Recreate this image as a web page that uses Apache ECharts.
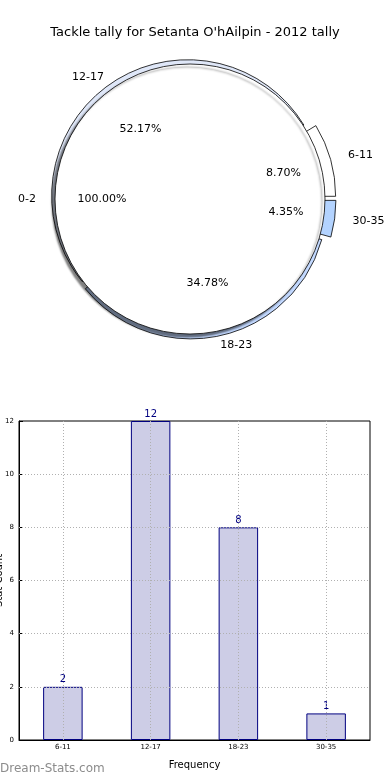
<!DOCTYPE html>
<html><head><meta charset="utf-8">
<script src="https://cdn.jsdelivr.net/npm/echarts@6/dist/echarts.min.js"></script>
<style>html,body{margin:0;padding:0;background:#fff}#c{width:390px;height:780px}</style>
</head><body><div id="c"></div>
<script>
var titleText = "Tackle tally for Setanta O'hAilpin - 2012 tally";
var categories = ['6-11', '12-17', '18-23', '30-35'];
var counts = [2, 12, 8, 1];
var sliceColors = ['#ffffff', '#dfe7f8', '#c3d9ff', '#b3d3ff'];
var fullName = '0-2';
var fullValue = [1];
var yTicks = [0, 2, 4, 6, 8, 10, 12];
var F = 'DejaVu Sans';

var cx = 190, cy = 199, R = 135;
var groupH = ['6-11', '30-35'];   // pulled further out
var groupV = ['12-17', '18-23'];
function groupData(group, visible) {
  return categories.map(function (c, i) {
    var inG = group.indexOf(c) >= 0;
    var d = { name: c, value: counts[i], selected: inG };
    if (visible && inG) d.itemStyle = { color: sliceColors[i], borderColor: '#000', borderWidth: 0.8 };
    else d.itemStyle = { color: 'rgba(0,0,0,0)', borderWidth: 0 };
    if (!inG) d.label = { show: false };
    return d;
  });
}
function pctFmt(p) { return p.percent.toFixed(2) + '%'; }
function basePie(extra) {
  var o = { type: 'pie', center: [cx, cy], startAngle: 0, clockwise: false, silent: true, avoidLabelOverlap: false,
    emphasis: { disabled: true }, labelLine: { show: false }, label: { show: false } };
  for (var k in extra) o[k] = extra[k];
  return o;
}
function lbl(fmt) { return { show: true, position: 'inside', formatter: fmt, fontFamily: F, fontSize: 11, color: '#000' }; }
function outLbl() { return { show: true, position: 'outside', formatter: '{b}', distanceToLabelLine: 0, fontFamily: F, fontSize: 11, color: '#000' }; }
function outLine(len) { return { show: false, length: len, length2: 0 }; }

var chart = echarts.init(document.getElementById('c'));
var gridLinesX = categories.map(function (c) { return { xAxis: c }; });
var gridLinesY = yTicks.slice(1, -1).map(function (v) { return { yAxis: v }; });
chart.setOption({
  animation: false,
  title: { text: titleText, left: 'center', top: 21, textStyle: { fontFamily: F, fontSize: 13, fontWeight: 'normal', color: '#000' } },
  graphic: [{ type: 'text', left: 0, top: 763, style: { text: 'Dream-Stats.com', fontFamily: F, fontSize: 12, fill: '#8c8c8c' } }],
  grid: { left: 19, right: 20, top: 421, bottom: 40, show: true, borderColor: '#000', borderWidth: 1, containLabel: false, outerBoundsMode: 'none' },
  xAxis: {
    type: 'category', data: categories, name: 'Frequency', nameLocation: 'middle', nameGap: 20,
    nameTextStyle: { fontFamily: F, fontSize: 10, color: '#000' },
    axisLine: { lineStyle: { color: '#000' } },
    axisTick: { show: true, alignWithLabel: true, inside: true, length: 4, lineStyle: { color: '#000' } },
    axisLabel: { fontFamily: F, fontSize: 7, color: '#000', margin: 4 },
    splitLine: { show: false }
  },
  yAxis: {
    type: 'value', min: 0, max: 12, interval: 2, name: 'Stat Count', nameLocation: 'middle', nameGap: 15, nameMoveOverlap: false,
    nameTextStyle: { fontFamily: F, fontSize: 10, color: '#000' },
    axisLine: { show: true, lineStyle: { color: '#000' } },
    axisTick: { show: true, inside: true, length: 4, lineStyle: { color: '#000' } },
    axisLabel: { fontFamily: F, fontSize: 7, color: '#000', margin: 5 },
    splitLine: { show: false }
  },
  series: [
    { type: 'bar', data: counts, barWidth: '45%', silent: true,
      itemStyle: { color: '#cdcde6', borderColor: '#000080', borderWidth: 1 },
      label: { show: true, position: 'top', distance: 2, fontFamily: F, fontSize: 10, color: '#000080' },
      markLine: { silent: true, symbol: 'none', label: { show: false },
        lineStyle: { color: '#b0b0b0', type: [1, 2], width: 1 },
        data: gridLinesX.concat(gridLinesY) } },
    basePie({ z: 1, radius: R + 1, selectedMode: 'multiple', selectedOffset: 10, data: groupData(groupH, true) }),
    basePie({ z: 1, radius: R + 1, selectedMode: 'multiple', selectedOffset: 4, data: groupData(groupV, true) }),
    basePie({ z: 2, radius: R,
      itemStyle: { color: '#fff', borderColor: '#000', borderWidth: 0.8, shadowColor: 'rgba(0,0,0,0.5)', shadowBlur: 2, shadowOffsetX: -3, shadowOffsetY: 3 },
      data: [{ name: fullName, value: fullValue[0] }] }),
    basePie({ z: 3, radius: [33, R], selectedMode: 'multiple', selectedOffset: 10, label: lbl(pctFmt), data: groupData(groupH, false) }),
    basePie({ z: 3, radius: [23, R], selectedMode: 'multiple', selectedOffset: 4, label: lbl(pctFmt), data: groupData(groupV, false) }),
    basePie({ z: 3, radius: R, selectedMode: 'multiple', selectedOffset: 10, label: outLbl(), labelLine: outLine(19), data: groupData(groupH, false) }),
    basePie({ z: 3, radius: R, selectedMode: 'multiple', selectedOffset: 4, label: outLbl(), labelLine: outLine(10), data: groupData(groupV, false) }),
    basePie({ z: 3, radius: [35, R], label: lbl(pctFmt), itemStyle: { color: 'rgba(0,0,0,0)', borderWidth: 0 },
      data: [{ name: fullName, value: fullValue[0] }] }),
    basePie({ z: 3, radius: R, label: outLbl(), labelLine: outLine(19), itemStyle: { color: 'rgba(0,0,0,0)', borderWidth: 0 },
      data: [{ name: fullName, value: fullValue[0] }] })
  ]
});
</script></body></html>
